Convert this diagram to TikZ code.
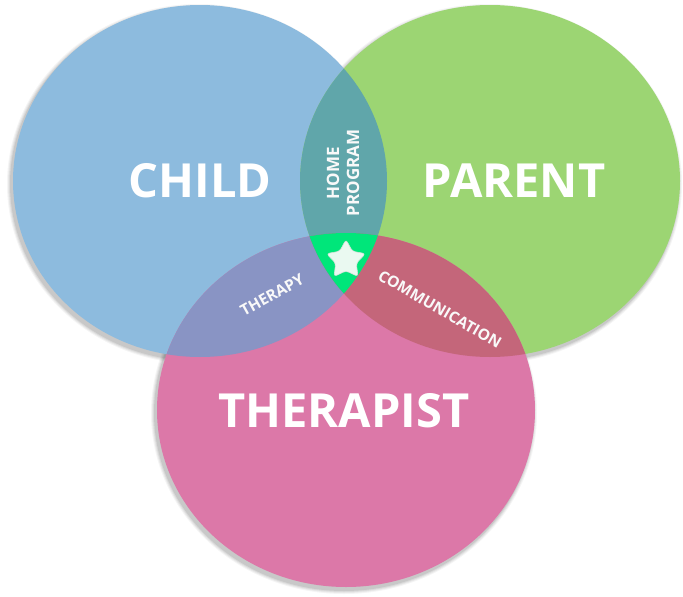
\documentclass[tikz,border=0pt]{standalone}
\usepackage{fontspec}
\setmainfont{Open Sans}
\usetikzlibrary{shapes.geometric}
\definecolor{cchild}{RGB}{141,187,222}
\definecolor{cparent}{RGB}{156,213,115}
\definecolor{ctherap}{RGB}{220,120,168}
\definecolor{chome}{RGB}{96,166,170}
\definecolor{ctherapy}{RGB}{137,148,196}
\definecolor{ccomm}{RGB}{196,102,122}
\definecolor{ccore}{RGB}{0,230,122}
\definecolor{cstar}{RGB}{234,249,241}
\def\childpath{(200,181) ellipse [x radius=187pt, y radius=176pt]}
\def\parentpath{(490,181) ellipse [x radius=190pt, y radius=176pt]}
\def\therappath{(346,410) ellipse [x radius=189pt, y radius=177pt]}
\tikzset{
  bigtext/.style={text=white, font=\fontsize{47}{47}\selectfont\bfseries, inner sep=0pt},
  midtext/.style={text=white!95!gray, font=\fontsize{17}{20}\selectfont\bfseries, inner sep=0pt, align=center},
  smalltext/.style={text=white!95!gray, font=\fontsize{15.5}{15.5}\selectfont\bfseries, inner sep=0pt},
}
\begin{document}
\begin{tikzpicture}[x=1pt,y=-1pt]
\useasboundingbox (0,0) rectangle (683,597);
\fill[white] (0,0) rectangle (683,597);
% soft shadows
\foreach \e/\op in {4/0.04,3/0.05,2/0.06,1/0.08}{
  \fill[black,opacity=\op] (198,184) ellipse [x radius=187pt+\e pt, y radius=176pt+\e pt];
  \fill[black,opacity=\op] (488,184) ellipse [x radius=190pt+\e pt, y radius=176pt+\e pt];
  \fill[black,opacity=\op] (344,413) ellipse [x radius=189pt+\e pt, y radius=177pt+\e pt];
}
% circles
\fill[cchild] \childpath;
\fill[cparent] \parentpath;
\fill[ctherap] \therappath;
% pairwise overlaps
\begin{scope}\clip \childpath; \fill[chome] \parentpath; \end{scope}
\begin{scope}\clip \childpath; \fill[ctherapy] \therappath; \end{scope}
\begin{scope}\clip \parentpath; \fill[ccomm] \therappath; \end{scope}
\begin{scope}\clip \childpath; \clip \parentpath; \fill[ccore] \therappath; \end{scope}
% labels
\node[bigtext] (child) at (200,181) {CHILD};
\node[bigtext] (parent) at (514,181) {PARENT};
\node[bigtext] (therapist) at (344,411) {THERAPIST};
\node[midtext, rotate=90] (home) at (343,173) {HOME\\PROGRAM};
\node[smalltext, rotate=29] (therapy) at (272,295) {THERAPY};
\node[smalltext, rotate=-30] (comm) at (440,309) {COMMUNICATION};
\node[star, star points=5, star point ratio=1.9, minimum size=41pt, inner sep=0pt,
      fill=cstar, draw=cstar!80!gray, line width=0.6pt, rounded corners=3pt] (core) at (346,260) {};
\end{tikzpicture}
\end{document}
